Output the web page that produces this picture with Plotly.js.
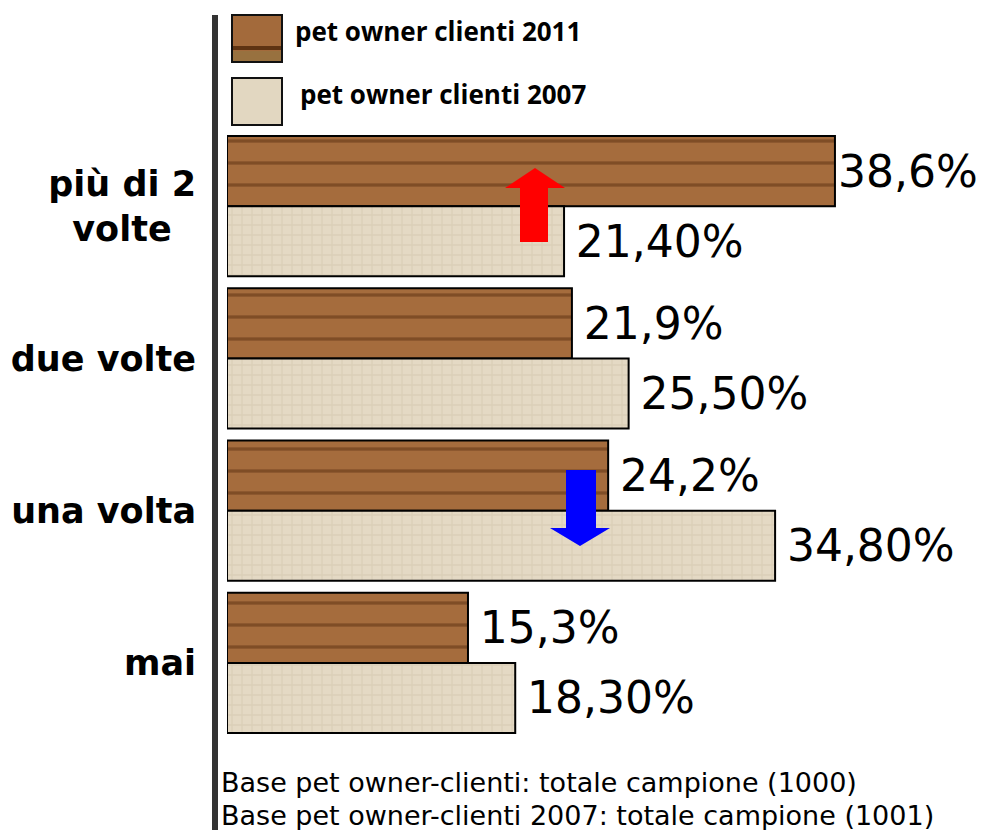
<!DOCTYPE html>
<html><head><meta charset="utf-8">
<script src="https://cdn.plot.ly/plotly-3.0.1.min.js"></script>
<style>html,body{margin:0;padding:0;background:#fff}</style>
</head><body>
<div id="chart" style="width:983px;height:830px"></div>
<script>
const categories = ["più di 2<br>volte\u00a0\u00a0", "due volte", "una volta", "mai"];
const values2011 = [38.6, 21.9, 24.2, 15.3];
const values2007 = [21.4, 25.5, 34.8, 18.3];
const labels2011 = ["38,6%", "\u200921,9%", "\u200924,2%", "\u200915,3%"];
const labels2007 = ["\u200921,40%", "\u200925,50%", "\u200934,80%", "\u200918,30%"];
const seriesNames = ["pet owner clienti 2011", "pet owner clienti 2007"];
const footnotes = ["Base pet owner-clienti: totale campione (1000)", "Base pet owner-clienti 2007: totale campione (1001)"];

const W = 983, H = 830, L = 227, T = 130, B = 91, R = 0;
const pw = W - L - R, ph = H - T - B;
const xmax = 48;
const px2x = p => (p - L) / pw * xmax;
const py2p = p => (H - B - p) / ph;
const pxp = p => (p - L) / pw;

const valFont = {family: "DejaVu Sans", size: 44, color: "#000"};

const t2011 = {
  type: "bar", orientation: "h", name: seriesNames[0],
  y: categories, x: values2011, text: labels2011,
  textposition: "outside", textfont: valFont, cliponaxis: false, constraintext: "none",
  marker: {color: "#9c6436", line: {color: "#000", width: 2},
    pattern: {shape: "-", fgcolor: "#5a2e10", bgcolor: "#a56c3d", size: 22, solidity: 0.15, fillmode: "overlay"}},
  hoverinfo: "none"
};
const t2007 = {
  type: "bar", orientation: "h", name: seriesNames[1],
  y: categories, x: values2007, text: labels2007,
  textposition: "outside", textfont: valFont, cliponaxis: false, constraintext: "none",
  marker: {color: "#e2d7c1", line: {color: "#000", width: 2},
    pattern: {shape: "+", fgcolor: "#d2c5ab", bgcolor: "#e4d9c4", size: 10, solidity: 0.25, fillmode: "overlay"}},
  hoverinfo: "none"
};

const shapes = [
  // axis line
  {type: "line", xref: "paper", yref: "paper", x0: pxp(215), x1: pxp(215), y0: py2p(15), y1: py2p(830),
   line: {color: "#333", width: 6}},
  // legend swatches
  {type: "rect", xref: "paper", yref: "paper", x0: pxp(232), x1: pxp(282), y0: py2p(62), y1: py2p(15),
   fillcolor: "#a36a3b", line: {color: "#111", width: 2}},
  {type: "rect", xref: "paper", yref: "paper", x0: pxp(233), x1: pxp(281), y0: py2p(50), y1: py2p(46),
   fillcolor: "#5e3312", line: {width: 0}},
  {type: "rect", xref: "paper", yref: "paper", x0: pxp(233), x1: pxp(281), y0: py2p(61), y1: py2p(51),
   fillcolor: "#98713f", line: {width: 0}},
  {type: "rect", xref: "paper", yref: "paper", x0: pxp(232), x1: pxp(282), y0: py2p(125), y1: py2p(78),
   fillcolor: "#e2d7c1", line: {color: "#111", width: 2}},
  // red arrow
  {type: "path", xref: "x", yref: "paper",
   path: "M" + px2x(535) + "," + py2p(168) + "L" + px2x(565) + "," + py2p(188) + "L" + px2x(548) + "," + py2p(188) +
         "L" + px2x(548) + "," + py2p(242) + "L" + px2x(520) + "," + py2p(242) + "L" + px2x(520) + "," + py2p(188) +
         "L" + px2x(505) + "," + py2p(188) + "Z",
   fillcolor: "#ff0000", line: {width: 0}},
  // blue arrow
  {type: "path", xref: "x", yref: "paper",
   path: "M" + px2x(566) + "," + py2p(470) + "L" + px2x(596) + "," + py2p(470) + "L" + px2x(596) + "," + py2p(528) +
         "L" + px2x(610) + "," + py2p(528) + "L" + px2x(580) + "," + py2p(546) + "L" + px2x(550) + "," + py2p(528) +
         "L" + px2x(566) + "," + py2p(528) + "Z",
   fillcolor: "#0000ff", line: {width: 0}}
];

const legFont = {family: "Open Sans", size: 26, color: "#000", weight: 700};
const footFont = {family: "DejaVu Sans", size: 27, color: "#000"};
const annotations = [
  {xref: "paper", yref: "paper", x: pxp(293), y: py2p(31), xanchor: "left", yanchor: "middle",
   text: "<b>" + seriesNames[0] + "</b>", showarrow: false, font: legFont},
  {xref: "paper", yref: "paper", x: pxp(298), y: py2p(94), xanchor: "left", yanchor: "middle",
   text: "<b>" + seriesNames[1] + "</b>", showarrow: false, font: legFont},
  {xref: "paper", yref: "paper", x: pxp(219), y: py2p(782), xanchor: "left", yanchor: "middle",
   text: footnotes[0], showarrow: false, font: footFont},
  {xref: "paper", yref: "paper", x: pxp(219), y: py2p(815), xanchor: "left", yanchor: "middle",
   text: footnotes[1], showarrow: false, font: footFont}
];

const layout = {
  width: W, height: H,
  margin: {l: L, r: R, t: T, b: B, pad: 0},
  paper_bgcolor: "#fff", plot_bgcolor: "#fff",
  showlegend: false,
  barmode: "group", bargap: 0.08, bargroupgap: 0,
  xaxis: {range: [0, xmax], visible: false, fixedrange: true},
  yaxis: {type: "category", autorange: false, range: [3.5, -0.5], showgrid: false, zeroline: false,
    showline: false, ticks: "", ticklabelstandoff: 30,
    tickfont: {family: "DejaVu Sans", size: 35, color: "#000", weight: 700}},
  shapes: shapes,
  annotations: annotations
};

Plotly.newPlot("chart", [t2011, t2007], layout, {displayModeBar: false, staticPlot: true});
</script>
</body></html>
